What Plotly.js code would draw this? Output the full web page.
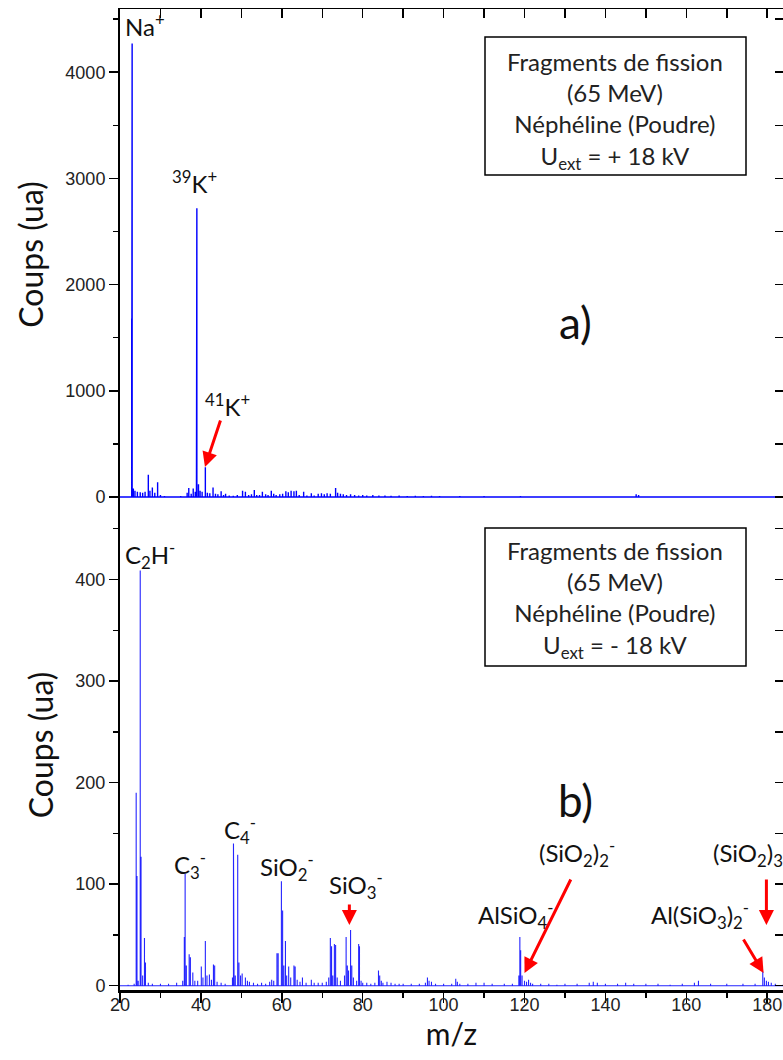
<!DOCTYPE html>
<html>
<head>
<meta charset="utf-8">
<script src="https://cdn.plot.ly/plotly-3.0.1.min.js"></script>
<style>html,body{margin:0;padding:0;background:#fff;}#chart{width:783px;height:1060px;}</style>
</head>
<body>
<div id="chart"></div>
<script>
// ---- Data ----
// Panel a) positive ions, U_ext = +18 kV
const mzA = [20, 22.9, 23.0, 23.3, 23.7, 24.3, 25.0, 25.6, 26.2, 27.0, 27.4, 28.0, 28.6, 29.3, 30.0, 31.0, 33, 35, 36.6, 37.0, 37.6, 38.1, 38.6, 38.9, 39.0, 39.4, 39.8, 40.3, 41.1, 41.6, 42.2, 43.0, 43.6, 44.2, 45.0, 45.6, 46.1, 47, 48, 49, 50.3, 51.0, 51.8, 52.5, 53.2, 53.8, 54.5, 55.2, 56, 56.6, 57.4, 58.0, 58.6, 59.5, 60.2, 61.0, 61.6, 62.3, 63.0, 63.6, 64.3, 65.4, 66.2, 67.3, 68, 69.0, 69.8, 70.5, 71.2, 72.0, 73.3, 73.8, 74.5, 75.2, 76, 77, 78, 79, 80, 81, 82.5, 84, 85.5, 87, 89, 91, 93, 95, 97, 99, 101, 104, 107, 110, 113, 116, 119, 122, 125, 128, 131, 134, 137, 140, 143, 146, 147.6, 148.2, 149, 152, 155, 158, 161, 164, 167, 170, 173, 176, 179, 182, 183.9];
const countsA = [0, 1680, 4270, 80, 60, 50, 45, 40, 50, 210, 60, 90, 40, 140, 20, 10, 8, 10, 40, 85, 30, 80, 50, 2600, 2720, 120, 60, 50, 280, 40, 35, 90, 30, 25, 55, 20, 30, 15, 12, 18, 60, 50, 20, 25, 65, 20, 20, 50, 25, 20, 60, 30, 20, 25, 30, 55, 45, 60, 55, 60, 20, 50, 15, 35, 15, 30, 35, 25, 35, 30, 85, 40, 30, 25, 20, 25, 20, 15, 20, 15, 20, 15, 15, 12, 15, 10, 12, 10, 12, 10, 8, 10, 8, 10, 8, 8, 10, 8, 8, 6, 8, 6, 8, 6, 6, 8, 25, 20, 8, 6, 6, 5, 6, 5, 5, 6, 5, 5, 5, 5, 4];

// Panel b) negative ions, U_ext = -18 kV
const mzB = [20, 22, 23.5, 24.0, 24.2, 24.5, 25.0, 25.2, 25.6, 26.05, 26.3, 27, 28, 30, 32, 34, 35.5, 35.9, 36.1, 36.4, 37.1, 37.4, 38.0, 38.5, 39.2, 40.1, 40.5, 41.1, 41.5, 42.1, 42.6, 43.1, 43.4, 44, 45, 46, 47.8, 48.05, 48.2, 48.5, 49.1, 49.4, 49.8, 50.2, 51, 51.5, 52, 53, 54, 55, 56, 57, 57.5, 58, 58.8, 59.1, 59.9, 60.2, 60.5, 60.9, 61.2, 61.7, 62.2, 63.0, 63.3, 63.8, 64.5, 65.1, 66, 67.3, 68, 69, 70, 71, 71.6, 72.0, 72.3, 72.6, 73.0, 73.3, 73.7, 74.5, 75.5, 75.9, 76.2, 76.5, 77.0, 77.3, 77.7, 78.5, 79.0, 79.2, 79.6, 80, 81, 82, 83, 83.9, 84.2, 84.6, 85, 86, 87, 88, 89, 90, 92, 94, 95.5, 96.0, 96.4, 97, 98, 100, 102, 103.0, 103.4, 104, 106, 108, 110, 112, 115, 117, 118.6, 118.85, 119.05, 119.4, 120, 120.5, 121.0, 121.5, 122, 124, 126, 128, 130, 133, 136, 137, 138, 140, 143, 145, 147, 150, 153, 156, 159, 162, 163, 166, 170, 174, 177, 178.9, 179.3, 179.8, 180.3, 181, 182, 183.9];
const countsB = [0, 1, 2, 190, 108, 5, 409, 127, 10, 47, 23, 3, 2, 2, 2, 3, 5, 48, 110, 20, 31, 28, 13, 5, 5, 19, 8, 44, 10, 11, 6, 21, 20, 4, 3, 2, 8, 140, 37, 10, 129, 23, 10, 12, 8, 5, 4, 3, 2, 3, 2, 4, 6, 5, 32, 32, 103, 74, 20, 44, 10, 19, 8, 20, 19, 6, 4, 8, 3, 6, 3, 3, 3, 4, 8, 47, 39, 10, 41, 40, 8, 5, 10, 48, 20, 15, 55, 20, 8, 5, 41, 39, 5, 3, 3, 2, 3, 15, 10, 5, 3, 4, 3, 2, 2, 2, 2, 2, 3, 8, 5, 4, 2, 2, 2, 7, 4, 2, 2, 3, 3, 2, 2, 2, 10, 48, 35, 10, 5, 4, 6, 3, 2, 2, 2, 1, 2, 2, 3, 4, 3, 2, 2, 3, 2, 2, 2, 1, 2, 3, 5, 2, 2, 2, 2, 14, 8, 5, 4, 3, 2, 1];

const xTickVals = [20, 40, 60, 80, 100, 120, 140, 160, 180];
const yTickValsA = [0, 1000, 2000, 3000, 4000];
const yTickValsB = [0, 100, 200, 300, 400];

// ---- Build stick spectra (vertical line per channel, baseline between) ----
function sticks(mz, counts) {
  const x = [], y = [];
  for (let i = 0; i < mz.length; i++) {
    x.push(mz[i], mz[i], mz[i]);
    y.push(0, counts[i], 0);
  }
  return {x, y};
}
const sA = sticks(mzA, countsA);
const sB = sticks(mzB, countsB);

// ---- Geometry helpers ----
const W = 783, H = 1060, ML = 120, MR = 0, MT = 9, MB = 70;
const PW = W - ML - MR, PH = H - MT - MB;
const split = 490 / PH;
const px = v => (v - ML) / PW;
const py = v => (H - MB - v) / PH;

const XR = [20, 183.9];
const YRA = [-28.2, 4595];
const YRB = [-4.2, 478.3];

const tickFont = {family: 'Liberation Sans, Arial, sans-serif', size: 18, color: '#222'};
const titleFont = {family: 'Lato, sans-serif', size: 32, color: '#111'};
const labFont = {family: 'Lato, sans-serif', size: 24, color: '#111'};
const boxFont = {family: 'Lato, sans-serif', size: 24, color: '#222'};

const traces = [
  {x: sA.x, y: sA.y, xaxis: 'x2', yaxis: 'y2', type: 'scatter', mode: 'lines',
   line: {color: '#0000ff', width: 1.4}, hoverinfo: 'skip', showlegend: false},
  {x: sB.x, y: sB.y, xaxis: 'x', yaxis: 'y', type: 'scatter', mode: 'lines',
   line: {color: '#2525ff', width: 1.1}, hoverinfo: 'skip', showlegend: false},
  {x: [], y: [], xaxis: 'x3', yaxis: 'y2', type: 'scatter', showlegend: false},
  {x: [], y: [], xaxis: 'x2', yaxis: 'y3', type: 'scatter', showlegend: false},
  {x: [], y: [], xaxis: 'x', yaxis: 'y4', type: 'scatter', showlegend: false}
];

const baseY = {
  showline: true, linecolor: '#000', linewidth: 2, mirror: false,
  ticks: 'outside', ticklen: 9, tickwidth: 1.5, tickcolor: '#000',
  showgrid: false, zeroline: false, tickfont: tickFont
};

const layout = {
  width: W, height: H,
  margin: {l: ML, r: MR, t: MT, b: MB, pad: 0},
  paper_bgcolor: '#fff', plot_bgcolor: 'rgba(0,0,0,0)',
  showlegend: false,
  xaxis: {
    domain: [0, 1], anchor: 'y', range: XR,
    showline: true, linecolor: '#000', linewidth: 2.5,
    ticks: 'outside', ticklen: 10, tickwidth: 1.5, tickcolor: '#000',
    tickmode: 'array', tickvals: xTickVals, ticklabelstandoff: -13,
    minor: {ticks: 'outside', ticklen: 5, tickwidth: 1.5, tickcolor: '#000', dtick: 10, tick0: 20, showgrid: false},
    showgrid: false, zeroline: false, tickfont: tickFont,
    title: {text: 'm/z', font: {family: 'Lato, sans-serif', size: 30, color: '#111'}, standoff: 4}
  },
  yaxis: Object.assign({}, baseY, {
    domain: [0, split], anchor: 'x', range: YRB,
    tickmode: 'array', tickvals: yTickValsB,
    minor: {ticks: 'outside', ticklen: 5, tickwidth: 1.5, tickcolor: '#000', dtick: 50, tick0: 0, showgrid: false},
    title: {text: 'Coups (ua)', font: titleFont, standoff: 12}
  }),
  xaxis2: {domain: [0, 1], anchor: 'y2', range: XR, visible: false},
  yaxis2: Object.assign({}, baseY, {
    domain: [split, 1], anchor: 'x2', range: YRA,
    tickmode: 'array', tickvals: yTickValsA,
    minor: {ticks: 'outside', ticklen: 5, tickwidth: 1.5, tickcolor: '#000', dtick: 500, tick0: 0, showgrid: false},
    title: {text: 'Coups (ua)', font: titleFont, standoff: 12}
  }),
  xaxis3: {
    overlaying: 'x2', anchor: 'y2', side: 'top', range: XR,
    showline: true, linecolor: '#000', linewidth: 1.5,
    ticks: 'inside', ticklen: 9, tickwidth: 1.5, tickcolor: '#000',
    dtick: 10, tick0: 20, showticklabels: false, showgrid: false, zeroline: false
  },
  yaxis3: {
    overlaying: 'y2', anchor: 'x2', side: 'right', range: YRA,
    showline: false, ticks: 'inside', ticklen: 8, tickwidth: 1.5, tickcolor: '#000',
    dtick: 500, tick0: 0, showticklabels: false, showgrid: false, zeroline: false
  },
  yaxis4: {
    overlaying: 'y', anchor: 'x', side: 'right', range: YRB,
    showline: false, ticks: 'inside', ticklen: 8, tickwidth: 1.5, tickcolor: '#000',
    dtick: 50, tick0: 0, showticklabels: false, showgrid: false, zeroline: false
  },
  shapes: [
    {type: 'rect', xref: 'paper', yref: 'paper', x0: px(485), x1: px(746), y0: py(175), y1: py(37),
     line: {color: '#000', width: 1.5}, fillcolor: 'rgba(0,0,0,0)'},
    {type: 'rect', xref: 'paper', yref: 'paper', x0: px(485), x1: px(746), y0: py(666), y1: py(528),
     line: {color: '#000', width: 1.5}, fillcolor: 'rgba(0,0,0,0)'}
  ],
  annotations: []
};

function lab(text, x, y, font, anchor) {
  layout.annotations.push({text: text, xref: 'paper', yref: 'paper', x: px(x), y: py(y),
    xanchor: anchor || 'left', yanchor: 'middle', showarrow: false, font: font || labFont});
}
function arrow(xr, yr, x, y, ax, ay) {
  layout.annotations.push({text: '', xref: xr, yref: yr, x: x, y: y, ax: ax, ay: ay,
    showarrow: true, arrowcolor: '#ff0000', arrowwidth: 3, arrowhead: 2, arrowsize: 1, standoff: 0});
}

// Panel a labels
lab('Na<sup>+</sup>', 123, 25);
lab('<sup>39</sup>K<sup>+</sup>', 170, 182);
lab('<sup>41</sup>K<sup>+</sup>', 203, 405);
arrow('x2', 'y2', 41.0, 282, 16, -48);
lab('a)', 575, 322, {family: 'Lato, sans-serif', size: 44, color: '#111'}, 'center');
lab('Fragments de fission<br>(65 MeV)<br>Néphéline (Poudre)<br>U<sub>ext</sub> = + 18 kV', 615, 110, boxFont, 'center');

// Panel b labels
lab('C<sub>2</sub>H<sup>-</sup>', 123, 555);
lab('C<sub>3</sub><sup>-</sup>', 172, 865);
lab('C<sub>4</sub><sup>-</sup>', 222, 830);
lab('SiO<sub>2</sub><sup>-</sup>', 258, 867);
lab('SiO<sub>3</sub><sup>-</sup>', 327, 885);
arrow('x', 'y', 76.7, 59.8, 0, -22);
lab('b)', 575, 800, {family: 'Lato, sans-serif', size: 44, color: '#111'}, 'center');
lab('Fragments de fission<br>(65 MeV)<br>Néphéline (Poudre)<br>U<sub>ext</sub> = - 18 kV', 615, 599, boxFont, 'center');
lab('AlSiO<sub>4</sub><sup>-</sup>', 476, 915);
lab('(SiO<sub>2</sub>)<sub>2</sub><sup>-</sup>', 537, 853);
arrow('x', 'y', 120.0, 12.5, 47, -95);
lab('(SiO<sub>2</sub>)<sub>3</sub><sup>-</sup>', 711, 853);
arrow('x', 'y', 179.8, 59.8, 0, -47);
lab('Al(SiO<sub>3</sub>)<sub>2</sub><sup>-</sup>', 649, 915);
arrow('x', 'y', 179.1, 12.5, -21, -35);

Plotly.newPlot('chart', traces, layout, {staticPlot: true, displayModeBar: false});
</script>
</body>
</html>
